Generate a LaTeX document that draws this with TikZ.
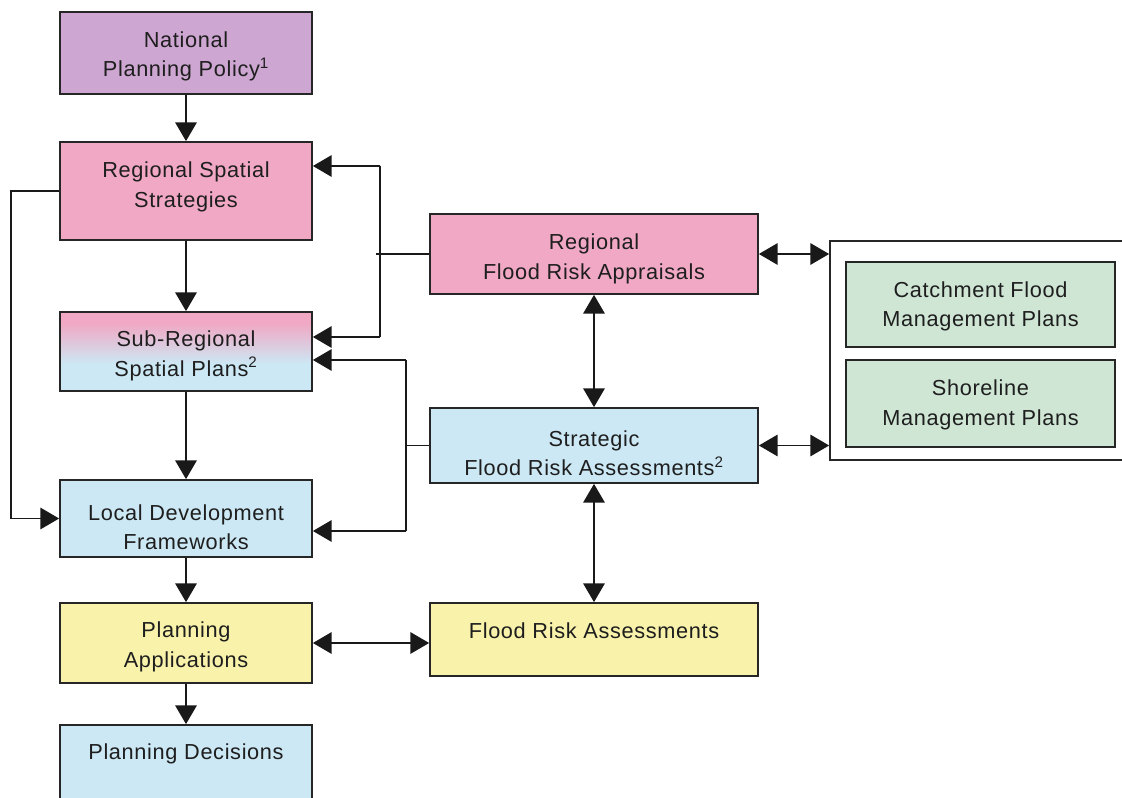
\documentclass[tikz,border=0pt]{standalone}
\usepackage{fontspec}
\setmainfont{Liberation Sans}[LetterSpace=3]
\usetikzlibrary{arrows.meta}
\definecolor{purpc}{HTML}{CDA6D1}
\definecolor{pinkc}{HTML}{F0A8C4}
\definecolor{bluec}{HTML}{CCE8F4}
\definecolor{yellc}{HTML}{F8F2AA}
\definecolor{greenc}{HTML}{CFE6D5}
\definecolor{txtc}{HTML}{1E1E1E}
\pgfdeclareverticalshading{srspshade}{100bp}{color(0bp)=(bluec); color(42bp)=(bluec); color(68bp)=(pinkc); color(100bp)=(pinkc)}
\tikzset{
  box/.style={draw=black!85, line width=1.3pt, inner sep=0pt},
  lbl/.style={align=center, inner sep=0pt, font=\fontsize{16.3}{22}\selectfont, text=txtc},
  ln/.style={line width=1.3pt, draw=black!90},
  arr/.style={ln, -{Triangle[length=14pt,width=16pt]}},
  darr/.style={ln, {Triangle[length=14pt,width=16pt]}-{Triangle[length=14pt,width=16pt]}}
}
\begin{document}
\begin{tikzpicture}[x=0.75pt,y=-0.75pt]
\useasboundingbox (0,0) rectangle (1122,798);
\clip (0,0) rectangle (1122,798);
\fill[white] (0,0) rectangle (1122,798);

% left column
\node[box, fill=purpc, minimum width=189pt, minimum height=61.5pt] (nps) at (186,53) {};
\node[lbl] (npst) at (186,56.5) {National\\Planning Policy\textsuperscript{1}};
\node[box, fill=pinkc, minimum width=189pt, minimum height=73.5pt] (rss) at (186,191) {};
\node[lbl] (rsst) at (186,187) {Regional Spatial\\Strategies};
\node[box, shading=srspshade, minimum width=189pt, minimum height=59.25pt] (srsp) at (186,351.5) {};
\node[lbl] (srspt) at (186,356) {Sub-Regional\\Spatial Plans\textsuperscript{2}};
\node[box, fill=bluec, minimum width=189pt, minimum height=57.75pt] (ldf) at (186,518.5) {};
\node[lbl] (ldft) at (186,527.5) {Local Development\\Frameworks};
\node[box, fill=yellc, minimum width=189pt, minimum height=60pt] (pa) at (186,643) {};
\node[lbl] (pat) at (186,647) {Planning\\Applications};
\node[box, fill=bluec, minimum width=189pt, minimum height=63.75pt] (pd) at (186,767.5) {};
\node[lbl] (pdt) at (186,754) {Planning Decisions};

% middle column
\node[box, fill=pinkc, minimum width=246pt, minimum height=60pt] (rfra) at (594,254) {};
\node[lbl] (rfrat) at (594,259) {Regional\\Flood Risk Appraisals};
\node[box, fill=bluec, minimum width=246pt, minimum height=56.25pt] (sfra) at (594,445.5) {};
\node[lbl] (sfrat) at (594,453.5) {Strategic\\Flood Risk Assessments\textsuperscript{2}};
\node[box, fill=yellc, minimum width=246pt, minimum height=54.75pt] (fra) at (594,639.5) {};
\node[lbl] (frat) at (594,631) {Flood Risk Assessments};

% right group
\node[box, fill=white, minimum width=232.5pt, minimum height=164.25pt] (grp) at (985,350.5) {};
\node[box, fill=greenc, minimum width=201.75pt, minimum height=63.75pt] (cfmp) at (980.5,304.5) {};
\node[lbl] (cfmpt) at (980.5,306.5) {Catchment Flood\\Management Plans};
\node[box, fill=greenc, minimum width=201.75pt, minimum height=65.25pt] (smp) at (980.5,403.5) {};
\node[lbl] (smpt) at (980.5,405) {Shoreline\\Management Plans};

% vertical flow, left column
\draw[arr] (nps) -- (rss);
\draw[arr] (rss) -- (srsp);
\draw[arr] (srsp) -- (ldf);
\draw[arr] (ldf) -- (pa);
\draw[arr] (pa) -- (pd);

% RSS to LDF bypass on the left
\draw[arr] (rss.west) -- ++(-48,0) |- (ldf.west);

% RFRA feeds RSS and SRSP
\coordinate (j1) at (380,166);
\coordinate (j2) at (380,337);
\coordinate (j3) at (376,254);
\draw[ln] (j1) -- (j2);
\draw[ln] (rfra.west) -- (j3);
\draw[arr] (j1) -- (rss.east |- j1);
\draw[arr] (j2) -- (srsp.east |- j2);

% SFRA feeds SRSP and LDF
\coordinate (j4) at (406,360);
\coordinate (j5) at (406,531);
\draw[ln] (j4) -- (j5);
\draw[ln] (sfra.west) -- (sfra.west -| j4);
\draw[arr] (j4) -- (srsp.east |- j4);
\draw[arr] (j5) -- (ldf.east |- j5);

% double arrows
\draw[darr] (rfra.south) -- (sfra.north);
\draw[darr] (sfra.south) -- (fra.north);
\draw[darr] (pa.east) -- (pa.east -| fra.west);
\draw[darr] (rfra.east) -- (rfra.east -| grp.west);
\draw[darr] (sfra.east) -- (sfra.east -| grp.west);
\end{tikzpicture}
\end{document}
